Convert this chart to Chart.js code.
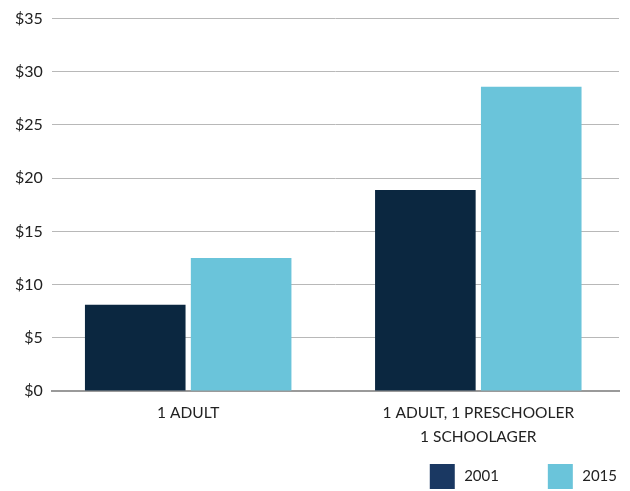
<!DOCTYPE html>
<html>
<head>
<meta charset="utf-8">
<script src="https://cdn.jsdelivr.net/npm/chart.js@4"></script>
<style>
  html, body { margin: 0; padding: 0; background: #fff; }
  #wrap { width: 630px; height: 491px; }
</style>
</head>
<body>
<div id="wrap"><canvas id="chart"></canvas></div>
<script>
const categories = ['1 ADULT', ['1 ADULT, 1 PRESCHOOLER', '1 SCHOOLAGER']];
const values2001 = [8.1, 18.9];
const values2015 = [12.5, 28.6];
const yTicks = [0, 5, 10, 15, 20, 25, 30, 35];

const navy = '#0b2740';
const navyLegend = '#1a3862';
const sky = '#6ac4da';

new Chart(document.getElementById('chart'), {
    type: 'bar',
    data: {
        labels: categories,
        datasets: [
            {label: '2001', data: values2001, backgroundColor: navy,
             categoryPercentage: 0.73, barPercentage: 0.95},
            {label: '2015', data: values2015, backgroundColor: sky,
             categoryPercentage: 0.73, barPercentage: 0.95},
        ]
    },
    options: {
        responsive: true,
        maintainAspectRatio: false,
        animation: false,
        layout: {padding: {top: 4, right: 11, left: 6, bottom: -8}},
        plugins: {
            tooltip: {enabled: false},
            legend: {
                position: 'bottom',
                align: 'end',
                labels: {
                    boxWidth: 25,
                    boxHeight: 25,
                    padding: 2,
                    color: '#222',
                    font: {family: 'Lato', size: 15},
                    generateLabels(chart) {
                        const items = Chart.defaults.plugins.legend.labels.generateLabels(chart);
                        items.forEach(it => {
                            // the reference legend swatch for 2001 is a bit lighter than the bars
                            it.fillStyle = it.datasetIndex === 0 ? navyLegend : sky;
                            it.strokeStyle = 'transparent';
                            it.lineWidth = 0;
                            it.text = '\u2009' + it.text;
                            if (it.datasetIndex === 0) it.text += '\u2003\u2003\u2003\u2003\u2009';
                        });
                        return items;
                    }
                }
            }
        },
        scales: {
            x: {
                grid: {display: false, drawTicks: false},
                border: {display: true, color: '#9a9a9a', width: 2},
                ticks: {
                    color: '#222',
                    padding: 10,
                    maxRotation: 0,
                    font: {family: 'Lato', size: 15.5, lineHeight: 1.55}
                },
                afterBuildTicks(axis) {
                    // widen spacing between the two groups like the original
                    axis.ticks = [{value: 0}, {value: 1}];
                    axis._startValue = -0.47;
                    axis._valueRange = 1.955;
                },
                afterFit(axis) {
                    axis.height += 3;
                }
            },
            y: {
                min: 0,
                max: 35,
                afterBuildTicks(axis) {
                    axis.ticks = yTicks.map(v => ({value: v}));
                },
                grid: {color: '#b8b8b8', lineWidth: 1, drawTicks: false},
                border: {display: false},
                ticks: {
                    color: '#222',
                    padding: 9,
                    font: {family: 'Lato', size: 16},
                    callback: v => '$' + v
                }
            }
        }
    }
});
</script>
</body>
</html>
